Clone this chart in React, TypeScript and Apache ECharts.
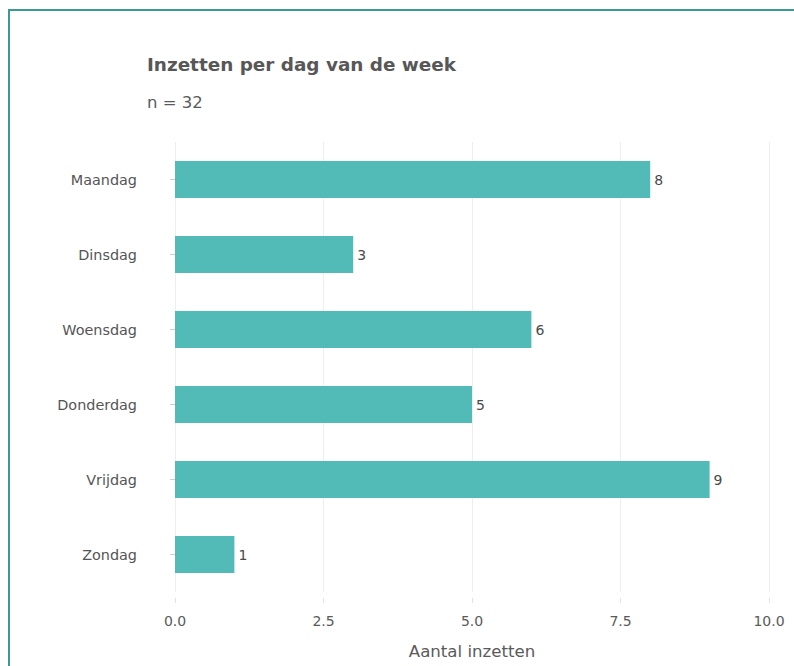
import React, { useEffect, useRef } from "react";
import * as echarts from "echarts";

const days = ["Maandag", "Dinsdag", "Woensdag", "Donderdag", "Vrijdag", "Zondag"];
const counts = [8, 3, 6, 5, 9, 1];
const titleText = "Inzetten per dag van de week";
const subtitleText = "n = 32";
const xAxisName = "Aantal inzetten";

const FONT = "DejaVu Sans";

export default function App() {
  const ref = useRef<HTMLDivElement>(null);
  useEffect(() => {
    if (!ref.current) return;
    const chart = echarts.init(ref.current, null, { renderer: "svg" });
    chart.setOption({
      animation: false,
      textStyle: { fontFamily: FONT },
      title: [
        {
          text: titleText,
          left: 147,
          top: 55,
          padding: 0,
          textStyle: { fontFamily: FONT, fontSize: 18.4, fontWeight: "bold", color: "#575757" },
        },
        {
          text: subtitleText,
          left: 147,
          top: 94,
          padding: 0,
          textStyle: { fontFamily: FONT, fontSize: 16.5, fontWeight: "normal", color: "#5a5a5a" },
        },
      ],
      grid: { left: 175, right: 25, top: 142, height: 450, containLabel: false },
      xAxis: {
        type: "value",
        min: 0,
        max: 10,
        interval: 2.5,
        offset: 6,
        name: xAxisName,
        nameLocation: "middle",
        nameGap: 45,
        nameTextStyle: { fontFamily: FONT, fontSize: 16.6, color: "#5a5a5a" },
        axisLine: { show: false },
        axisTick: { show: true, length: 5, lineStyle: { color: "#e3e3e3" } },
        axisLabel: {
          margin: 16,
          fontSize: 14,
          color: "#5a5a5a",
          fontFamily: FONT,
          formatter: (v: number) => v.toFixed(1),
        },
        splitLine: { show: true, lineStyle: { color: "#eeeeee", width: 1 } },
      },
      yAxis: {
        type: "category",
        data: days,
        inverse: true,
        offset: 29,
        axisLine: { show: false },
        axisTick: { show: true, length: 5, alignWithLabel: true, lineStyle: { color: "#cfcfcf" } },
        axisLabel: { margin: 9, fontSize: 14.4, color: "#555555", fontFamily: FONT },
        splitLine: { show: false },
      },
      series: [
        {
          type: "bar",
          data: counts,
          barWidth: 37,
          itemStyle: { color: "#52bbb8" },
          label: {
            show: true,
            position: "right",
            distance: 4,
            fontSize: 14,
            color: "#4a4a4a",
            fontFamily: FONT,
          },
        },
      ],
    });
    return () => chart.dispose();
  }, []);

  return (
    <div style={{ position: "fixed", left: 0, top: 0, width: 794, height: 666, overflow: "hidden", background: "#fff" }}>
      <div
        style={{
          position: "absolute",
          left: 8,
          top: 9,
          width: 900,
          height: 800,
          border: "2px solid #3d9995",
          boxSizing: "border-box",
        }}
      />
      <div ref={ref} style={{ position: "absolute", left: 0, top: 0, width: 794, height: 666 }} />
    </div>
  );
}
